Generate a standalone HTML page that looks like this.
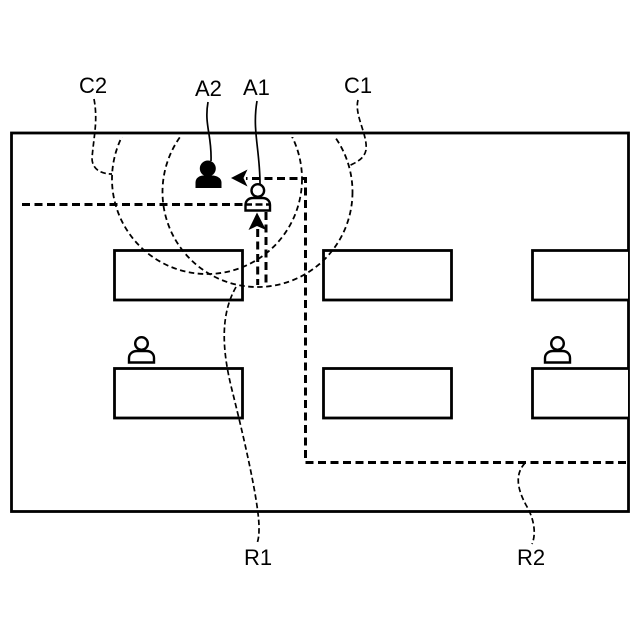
<!DOCTYPE html>
<html>
<head>
<meta charset="utf-8">
<style>
html,body{margin:0;padding:0;background:#fff}
svg{display:block}
text{font-family:"Liberation Sans",sans-serif;font-size:22px;fill:#000}
</style>
</head>
<body>
<svg width="640" height="640" viewBox="0 0 640 640" xmlns="http://www.w3.org/2000/svg">
<defs>
<clipPath id="top"><rect x="0" y="137" width="640" height="503"/></clipPath>
</defs>
<rect width="640" height="640" fill="#fff"/>
<!-- room -->
<rect x="11.500" y="133" width="617" height="378.500" fill="none" stroke="#000" stroke-width="2.800"/>
<!-- desks -->
<g fill="#fff" stroke="#000" stroke-width="2.800">
<rect x="114.500" y="250.500" width="128" height="49.500"/>
<rect x="323.500" y="250.500" width="128" height="49.500"/>
<path d="M628 250.500H532.500V300H628"/>
<rect x="114.500" y="368.500" width="128" height="49.500"/>
<rect x="323.500" y="368.500" width="128" height="49.500"/>
<path d="M628 368.500H532.500V418H628"/>
</g>
<!-- range circles -->
<g clip-path="url(#top)" fill="none" stroke="#000" stroke-width="1.800" stroke-dasharray="5.500 3.500">
<circle cx="257.500" cy="192" r="95"/>
<circle cx="207" cy="179" r="95"/>
</g>
<!-- routes -->
<g fill="none" stroke="#000" stroke-width="3" stroke-dasharray="8 4.500">
<path d="M22 204.500H244"/>
<path d="M626 462.500H305.500V178.500H246"/>
<path d="M266 212V285"/>
<path d="M257.700 229V285"/>
</g>
<!-- arrowheads -->
<path d="M231 178L247.500 169.500L243.500 178L247.500 186.500Z" fill="#000"/>
<path d="M257 212.500L266 230L257 226L248.500 230Z" fill="#000"/>
<!-- A2 person -->
<circle cx="207.800" cy="168.500" r="8" fill="#000"/>
<path d="M195.500 188V182.500C195.500 178 199.500 175.500 203.500 175.500H212.500C216.500 175.500 221.500 178 221.500 182.500V188Z" fill="#000"/>
<!-- A1 person -->
<g fill="none" stroke="#000" stroke-width="2.400">
<circle cx="257.800" cy="190.500" r="6.300"/>
<path d="M245.500 210.500V205C245.500 200.500 249 198 253 198H262.500C266.500 198 270 200.500 270 205V210.500Z" fill="#fff"/>
</g>
<path d="M245 204.500H270" stroke="#000" stroke-width="2.600" stroke-dasharray="7 3.500"/>
<!-- other persons -->
<g fill="none" stroke="#000" stroke-width="2.400">
<circle cx="141.500" cy="343.500" r="6.300"/>
<path d="M129 362.500V358C129 353.500 133 351 137 351H146.500C150.500 351 154 353.500 154 358V362.500Z"/>
<circle cx="557.500" cy="343.500" r="6.300"/>
<path d="M545 362.500V358C545 353.500 549 351 553 351H562.500C566.500 351 570 353.500 570 358V362.500Z"/>
</g>
<!-- solid leaders -->
<g fill="none" stroke="#000" stroke-width="1.700">
<path d="M208 102C204 125 212 135 211 161"/>
<path d="M257 101C252 130 260 150 260 184"/>
</g>
<!-- dashed leaders -->
<g fill="none" stroke="#000" stroke-width="1.700" stroke-dasharray="5.500 3">
<path d="M94 99C98 120 94 135 92 158C92 170 102 174 112 174"/>
<path d="M358 100C354 115 368 135 366 150C364 160 354 163 349 166"/>
<path d="M236 287C220 315 222 350 232 390C242 430 260 505 259 530C259 537 258 540 257 544"/>
<path d="M525 463C514 475 518 490 526 505C535 520 536 535 532 544"/>
</g>
<!-- labels -->
<text x="79" y="93">C2</text>
<text x="195" y="96">A2</text>
<text x="243" y="95">A1</text>
<text x="344" y="93">C1</text>
<text x="244" y="565">R1</text>
<text x="517" y="565">R2</text>
</svg>
</body>
</html>
